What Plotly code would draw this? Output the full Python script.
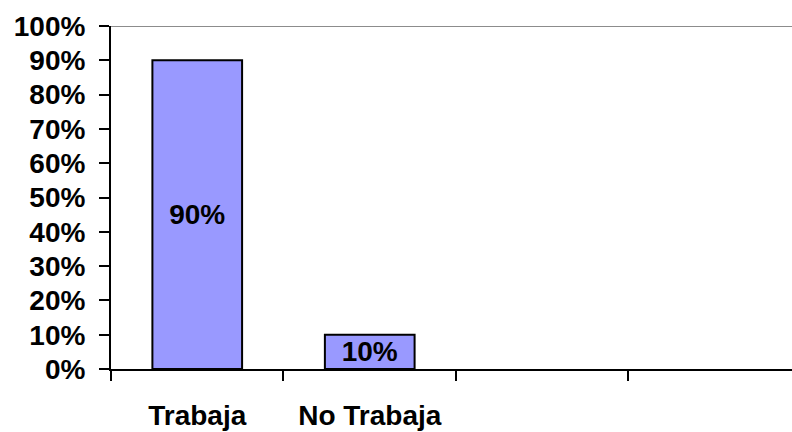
import plotly.graph_objects as go

# categories on the x axis (two empty slots as in the original Excel chart)
categories = ["Trabaja", "No Trabaja", " ", "  "]
shares = [0.90, 0.10, None, None]
bar_labels = ["90%", "10%", "", ""]
y_ticks = [i / 10 for i in range(11)]

FONT = "Liberation Sans, Arial, sans-serif"
SIZE = 28

fig = go.Figure()
fig.add_trace(go.Bar(
    x=categories, y=shares,
    text=bar_labels, textposition="inside", insidetextanchor="middle",
    constraintext="none",
    textfont=dict(family=FONT, size=SIZE, color="black", weight="bold"),
    marker=dict(color="#9999FF", line=dict(color="black", width=2)),
    width=0.52,
))

# gray line along the top of the plot (100%)
fig.add_shape(type="line", xref="paper", yref="y", x0=0, x1=1, y0=1, y1=1,
              line=dict(color="#8c8c8c", width=2), layer="below")

fig.update_layout(
    width=792, height=432,
    margin=dict(l=111, r=0, t=26, b=63),
    plot_bgcolor="white", paper_bgcolor="white",
    showlegend=False,
    font=dict(family=FONT, size=SIZE, color="black", weight="bold"),
    xaxis=dict(
        type="category", range=[-0.5, 3.448],
        showline=True, linecolor="black", linewidth=2,
        ticks="outside", tickson="boundaries", ticklen=10, tickwidth=2, tickcolor="black",
        tickfont=dict(family=FONT, size=SIZE, weight="bold"),
        ticklabelstandoff=20, showgrid=False,
    ),
    yaxis=dict(
        range=[0, 1], tickvals=y_ticks, tickformat=".0%",
        showline=True, linecolor="black", linewidth=2,
        ticks="outside", ticklen=10, tickwidth=2, tickcolor="black",
        tickfont=dict(family=FONT, size=SIZE, weight="bold"),
        ticklabelstandoff=8, showgrid=False, zeroline=False,
    ),
)

# drop the default 8px page margin so the figure sits at the window's corner
fig.write_html("out.html", config={"displayModeBar": False},
               post_script="document.body.style.margin='0';")
